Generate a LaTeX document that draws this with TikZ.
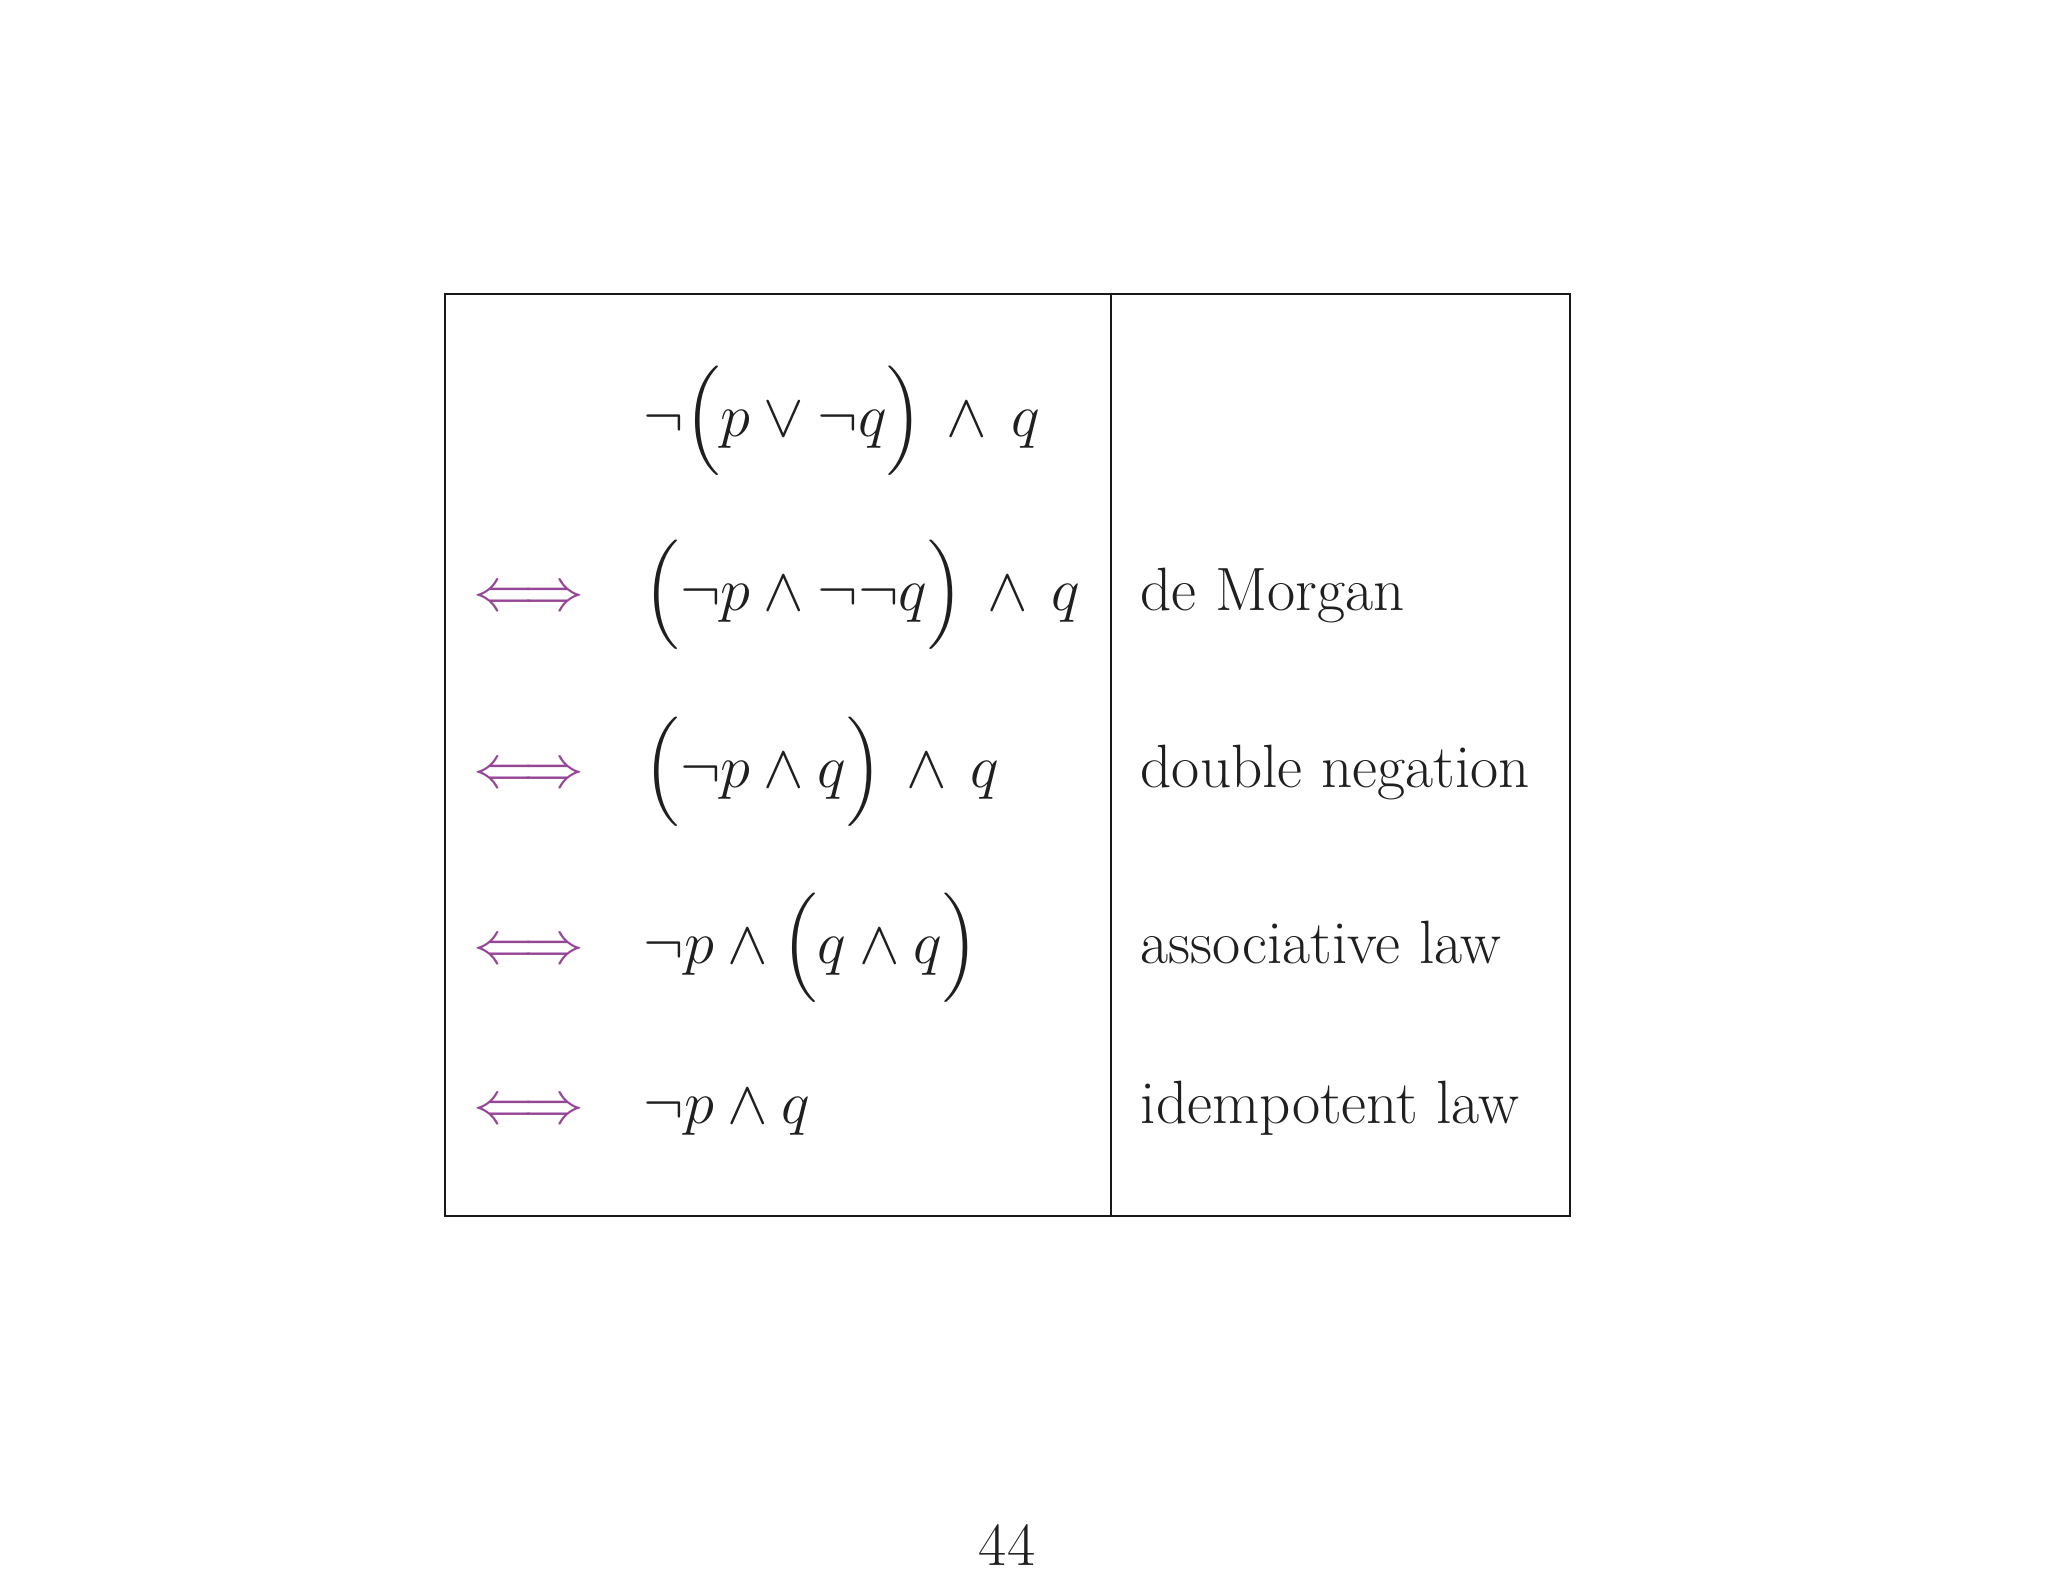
\documentclass[tikz,border=0pt]{standalone}
\usepackage{amsmath}
\begin{document}
\begin{tikzpicture}[x=0.01cm,y=-0.01cm,
  txt/.style={anchor=base west,inner sep=0pt,font=\fontsize{17.4}{21}\selectfont,text=black!88},
  arr/.style={anchor=base,inner sep=0pt,font=\fontsize{17.4}{21}\selectfont,text={rgb,255:red,150;green,70;blue,150}},
  rule/.style={line width=0.6pt,black!90}]
\useasboundingbox (0,0) rectangle (2048,1582);
\coordinate (tl) at (445,294); \coordinate (br) at (1570,1216);
\coordinate (mt) at (1111,294); \coordinate (mb) at (1111,1216);
\draw[rule] (tl) rectangle (br);
\draw[rule] (mt) -- (mb);
\node[txt] (f1) at (643,436) {$\neg\Bigl(p\vee\neg q\Bigr)\,\wedge\,q$};
\node[txt] (f2) at (643,610) {$\Bigl(\neg p\wedge\neg\neg q\Bigr)\,\wedge\,q$};
\node[txt] (f3) at (643,787) {$\Bigl(\neg p\wedge q\Bigr)\,\wedge\,q$};
\node[txt] (f4) at (643,963) {$\neg p\wedge\Bigl(q\wedge q\Bigr)$};
\node[txt] (f5) at (643,1123) {$\neg p\wedge q$};
\foreach \y/\n in {610/2,787/3,963/4,1123/5} \node[arr] (a\n) at (529,\y) {$\Longleftrightarrow$};
\node[txt] (l2) at (1140,610) {de Morgan};
\node[txt] (l3) at (1140,787) {double negation};
\node[txt] (l4) at (1140,963) {associative law};
\node[txt] (l5) at (1140,1123) {idempotent law};
\node[anchor=base,inner sep=0pt,font=\fontsize{17.4}{21}\selectfont,text=black!88] (pg) at (1007,1565) {44};
\end{tikzpicture}
\end{document}
